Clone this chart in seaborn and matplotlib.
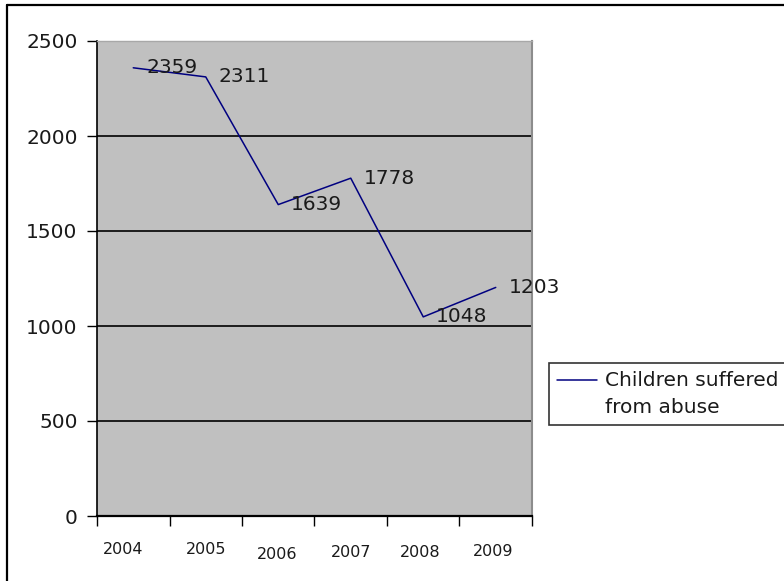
import matplotlib
matplotlib.use("Agg")
import matplotlib.pyplot as plt
import matplotlib.transforms as mtransforms
from matplotlib.lines import Line2D
import seaborn as sns
import pandas as pd

# Reported cases per year
years = ["2004", "2005", "2006", "2007", "2008", "2009"]
cases = [2359, 2311, 1639, 1778, 1048, 1203]
series_name = "Children suffered\nfrom abuse"

y_ticks = [0, 500, 1000, 1500, 2000, 2500]

df = pd.DataFrame({"year": years, "cases": cases, "series": series_name})

sns.set_theme(style="white")
plt.rcParams["font.family"] = ["DejaVu Sans"]

W, H, DPI = 784, 581, 100
fig = plt.figure(figsize=(W / DPI, H / DPI), dpi=DPI)
fig.patch.set_facecolor("white")

# plot area in pixel terms
left, right, top, bottom = 97, 532, 41, 516
ax = fig.add_axes([left / W, 1 - bottom / H, (right - left) / W, (bottom - top) / H])
ax.set_facecolor("#c0c0c0")

sns.lineplot(data=df, x="year", y="cases", hue="series", palette=["#000080"],
             linewidth=1.1, ax=ax, sort=False)

ax.set_xlim(-0.5, len(years) - 0.5)
ax.set_ylim(0, 2500)
ax.set_yticks(y_ticks)
ax.set_yticklabels([str(t) for t in y_ticks], fontsize=14.5, color="#1a1a1a")
ax.yaxis.grid(True, color="black", linewidth=1.2)
ax.set_axisbelow(True)
ax.set_xlabel("")
ax.set_ylabel("")

# category boundaries carry the tick marks, centres carry the labels
ax.set_xticks(range(len(years)))
ax.set_xticklabels(years, fontsize=11.5, color="#1a1a1a")
ax.set_xticks([i - 0.5 for i in range(len(years) + 1)], minor=True)
ax.tick_params(axis="x", which="major", length=0, pad=19)
ax.tick_params(axis="x", which="minor", length=7, width=1, color="black", direction="out", bottom=True)
ax.tick_params(axis="y", which="major", length=7, width=1, color="black", direction="out", left=True, pad=7)

# slight jitter of the year labels
offsets = [(-10, 0), (0, -0.5), (-1, 5), (0, 3), (-3, 3), (-3, 2)]
for lab, (dx, dy) in zip(ax.get_xticklabels(), offsets):
    lab.set_transform(lab.get_transform() + mtransforms.ScaledTranslation(dx / DPI, -dy / DPI, fig.dpi_scale_trans))

for side, col, lw in [("left", "black", 1.2), ("bottom", "black", 1.6), ("top", "#a8a8a8", 1.0), ("right", "#8c8c8c", 1.5)]:
    ax.spines[side].set_visible(True)
    ax.spines[side].set_color(col)
    ax.spines[side].set_linewidth(lw)

# value labels beside each point
for i, v in enumerate(cases):
    ax.annotate(str(v), (i, v), xytext=(13, 0), textcoords="offset pixels",
                va="center", ha="left", fontsize=14.5, color="#1a1a1a",
                annotation_clip=False)

leg = ax.legend(loc="upper left", bbox_to_anchor=(549 / W, 1 - 363 / H),
                bbox_transform=fig.transFigure, frameon=True, fancybox=False,
                fontsize=14.5, handlelength=2.0, handletextpad=0.4,
                borderpad=0.4, borderaxespad=0)
leg.get_frame().set_edgecolor("black")
leg.get_frame().set_linewidth(1.2)
for t in leg.get_texts():
    t.set_color("#1a1a1a")
    t.set_linespacing(1.55)
# keep the legend line level with the first text line
for ln in leg.get_lines():
    ln.set_transform(ln.get_transform() + mtransforms.ScaledTranslation(0, 14.5 / DPI, fig.dpi_scale_trans))

# outer chart frame (top and left edges)
fig.add_artist(Line2D([7 / W, 1], [1 - 5 / H, 1 - 5 / H], transform=fig.transFigure, color="black", linewidth=1.6))
fig.add_artist(Line2D([7 / W, 7 / W], [0, 1 - 5 / H], transform=fig.transFigure, color="black", linewidth=1.6))

fig.savefig("out.png", dpi=DPI)
